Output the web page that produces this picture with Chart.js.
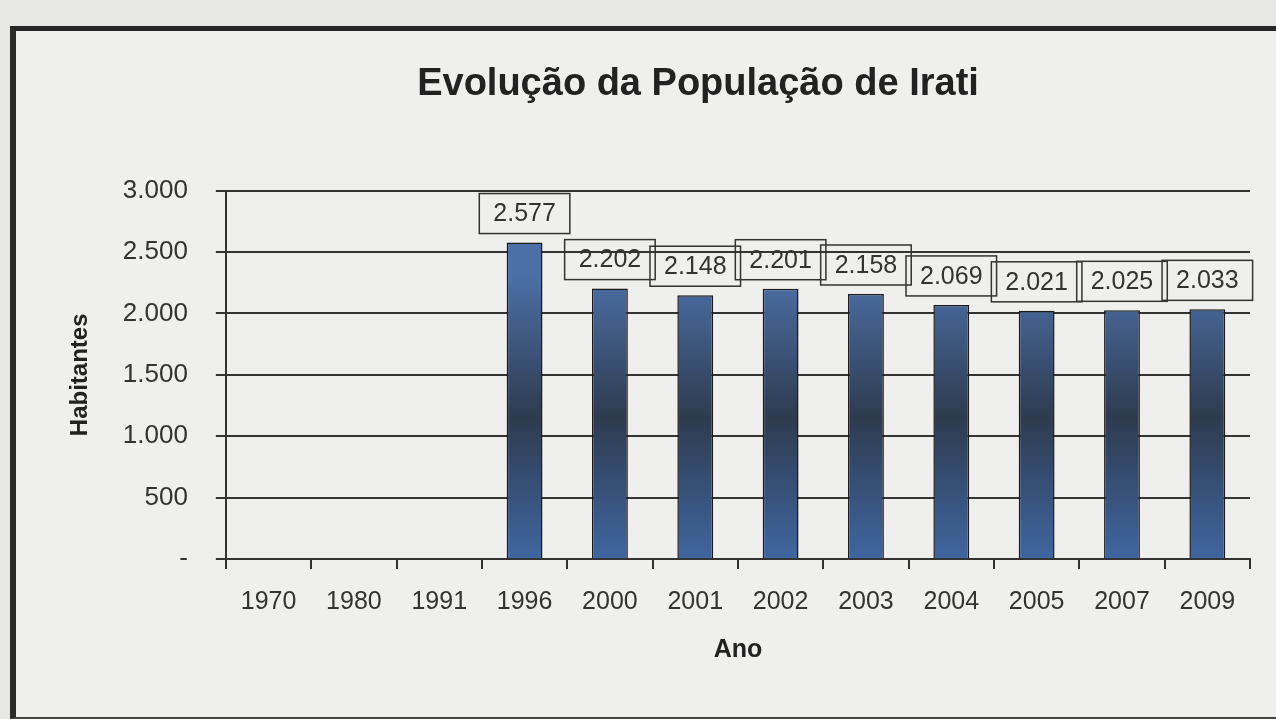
<!DOCTYPE html>
<html>
<head>
<meta charset="utf-8">
<script src="https://cdn.jsdelivr.net/npm/chart.js@4.4.1/dist/chart.umd.min.js"></script>
<style>
  html, body { margin: 0; padding: 0; background: #e6e6e4; overflow: hidden; }
  #frame {
    position: absolute; left: 10px; top: 26px; width: 1300px; height: 686px;
    border-top: 5px solid #262626; border-left: 6px solid #2b2b2b; border-bottom: 2px solid #444;
    background: #efefed;
  }
  #wrap { position: absolute; left: 0; top: 0; width: 1276px; height: 719px; }
</style>
</head>
<body>
<div id="frame"></div>
<div id="wrap"><canvas id="popChart" width="1276" height="719"></canvas></div>
<script>
const years = ['1970', '1980', '1991', '1996', '2000', '2001', '2002', '2003', '2004', '2005', '2007', '2009'];
const habitantes = [null, null, null, 2577, 2202, 2148, 2201, 2158, 2069, 2021, 2025, 2033];
const yTicks = [0, 500, 1000, 1500, 2000, 2500, 3000];

const FONT = '"Liberation Sans", Arial, sans-serif';
const fmt = (v) => (v === 0 ? '-' : v.toLocaleString('de-DE'));

// boxed value labels above each bar
const boxLabels = {
  id: 'boxLabels',
  afterLayout(chart) {
    // title sits a bit right of the canvas centre, over the plot
    const t = chart.titleBlock;
    t.left += 80;
  },
  afterDatasetsDraw(chart) {
    const ctx = chart.ctx;
    const meta = chart.getDatasetMeta(0);
    ctx.save();
    ctx.font = '25px ' + FONT;
    ctx.textAlign = 'center';
    ctx.textBaseline = 'middle';
    meta.data.forEach((bar, i) => {
      const v = habitantes[i];
      if (v == null) return;
      const txt = fmt(v);
      const w = ctx.measureText(txt).width + 28;
      const h = 40;
      const bottom = bar.y - 9;
      ctx.strokeStyle = '#333';
      ctx.lineWidth = 1.5;
      ctx.strokeRect(bar.x - w / 2, bottom - h, w, h);
      ctx.fillStyle = '#333';
      ctx.fillText(txt, bar.x, bottom - h / 2 + 1);
    });
    ctx.restore();
  },
};

const ctx = document.getElementById('popChart').getContext('2d');

new Chart(ctx, {
  type: 'bar',
  data: {
    labels: years,
    datasets: [
      {
        data: habitantes,
        backgroundColor: (c) => {
          const area = c.chart.chartArea;
          if (!area) return '#3f5f8f';
          const y = c.chart.scales.y;
          const g = c.chart.ctx.createLinearGradient(0, y.getPixelForValue(2300), 0, y.getPixelForValue(0));
          g.addColorStop(0, '#4b6fa6');
          g.addColorStop(0.5, '#2e3b4f');
          g.addColorStop(1, '#3f66a0');
          return g;
        },
        borderColor: '#1a1a1a',
        borderWidth: 1.5,
        barPercentage: 0.42,
        categoryPercentage: 1.0,
      },
    ],
  },
  options: {
    responsive: false,
    animation: false,
    layout: { padding: { top: 62, left: 66, right: 26, bottom: 54 } },
    plugins: {
      legend: { display: false },
      tooltip: { enabled: false },
      title: {
        display: true,
        text: 'Evolução da População de Irati',
        color: '#222',
        font: { family: FONT, size: 38, weight: 'bold' },
        padding: { top: 0, bottom: 83 },
      },
    },
    scales: {
      x: {
        offset: true,
        grid: { display: true, drawOnChartArea: false, drawTicks: true, tickLength: 10, color: '#333', lineWidth: 2, offset: true },
        border: { display: true, color: '#333', width: 2 },
        ticks: { color: '#333', padding: 18, font: { family: FONT, size: 25 } },
        title: {
          display: true,
          text: 'Ano',
          color: '#222',
          padding: { top: 0, bottom: 0 },
          font: { family: FONT, size: 25, weight: 'bold' },
        },
      },
      y: {
        min: 0,
        max: 3000,
        afterBuildTicks: (axis) => { axis.ticks = yTicks.map((v) => ({ value: v })); },
        grid: { color: '#333', lineWidth: 2, tickLength: 10 },
        border: { display: true, color: '#333', width: 2 },
        ticks: {
          color: '#333',
          padding: 28,
          font: { family: FONT, size: 26 },
          callback: (v) => fmt(v),
        },
        title: {
          display: true,
          text: 'Habitantes',
          color: '#222',
          padding: { top: 0, bottom: 0 },
          font: { family: FONT, size: 24, weight: 'bold' },
        },
      },
    },
  },
  plugins: [boxLabels],
});
</script>
</body>
</html>
